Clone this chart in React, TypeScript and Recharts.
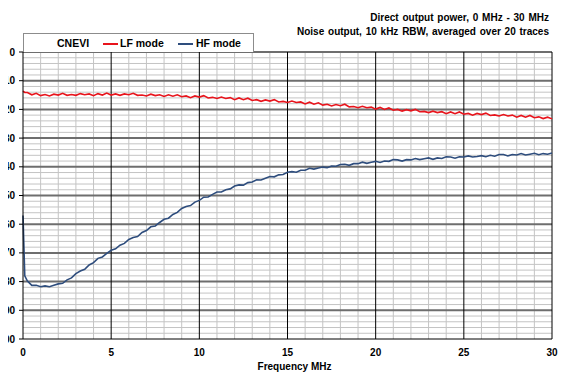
import React from 'react';
import { LineChart, Line, XAxis, YAxis, ReferenceLine } from 'recharts';

// frequency points, MHz
const freqs = [
  0, 0.1, 0.25, 0.5, 0.75, 1, 1.25, 1.5, 1.75, 2, 2.25, 2.5, 2.75, 3, 3.25, 3.5, 3.75, 4, 4.25, 4.5, 4.75, 5,
  5.25, 5.5, 5.75, 6, 6.25, 6.5, 6.75, 7, 7.25, 7.5, 7.75, 8, 8.25, 8.5, 8.75, 9, 9.25, 9.5, 9.75, 10,
  10.25, 10.5, 10.75, 11, 11.25, 11.5, 11.75, 12, 12.25, 12.5, 12.75, 13, 13.25, 13.5, 13.75, 14, 14.25, 14.5, 14.75, 15,
  15.25, 15.5, 15.75, 16, 16.25, 16.5, 16.75, 17, 17.25, 17.5, 17.75, 18, 18.25, 18.5, 18.75, 19, 19.25, 19.5, 19.75, 20,
  20.25, 20.5, 20.75, 21, 21.25, 21.5, 21.75, 22, 22.25, 22.5, 22.75, 23, 23.25, 23.5, 23.75, 24, 24.25, 24.5, 24.75, 25,
  25.25, 25.5, 25.75, 26, 26.25, 26.5, 26.75, 27, 27.25, 27.5, 27.75, 28, 28.25, 28.5, 28.75, 29, 29.25, 29.5, 29.75, 30,
];

// LF mode output, dB
const lfMode = [
  -13.6, -14.1, -14.1, -14.9, -14.4, -15.2, -14.8, -15.3, -14.7, -15.0, -14.4, -15.1, -14.8, -15.1, -14.5, -14.9, -14.6, -15.2, -14.5, -15.0, -14.3, -15.0,
  -14.6, -15.1, -14.6, -14.9, -14.4, -15.1, -15.0, -15.3, -14.7, -15.2, -14.9, -15.5, -14.9, -15.4, -14.9, -15.6, -15.3, -15.9, -15.3, -15.7,
  -15.2, -16.0, -15.8, -16.2, -15.7, -16.2, -15.9, -16.6, -16.0, -16.6, -16.1, -16.9, -16.6, -17.2, -16.7, -17.1, -16.6, -17.4, -17.2, -17.6,
  -17.1, -17.6, -17.4, -18.1, -17.5, -18.2, -17.7, -18.5, -18.2, -18.8, -18.3, -18.7, -18.2, -19.1, -19.0, -19.4, -18.9, -19.4, -19.2, -19.9,
  -19.3, -20.0, -19.5, -20.3, -20.0, -20.6, -20.1, -20.5, -20.0, -20.8, -20.7, -21.1, -20.6, -21.1, -20.8, -21.5, -20.9, -21.5, -20.9, -21.7,
  -21.4, -22.0, -21.4, -21.8, -21.3, -22.1, -21.9, -22.3, -21.8, -22.3, -22.0, -22.7, -22.1, -22.7, -22.1, -22.9, -22.6, -23.2, -22.7, -23.3,
];

// HF mode output, dB
const hfMode = [
  -57.0, -78.0, -79.8, -81.3, -81.3, -81.8, -81.5, -81.8, -81.3, -80.8, -80.6, -79.4, -78.7, -77.2, -76.3, -75.7, -74.2, -73.4, -71.9, -71.4, -70.2, -69.1,
  -68.6, -67.3, -66.7, -65.3, -64.6, -64.3, -62.9, -62.2, -60.9, -60.6, -59.4, -58.3, -57.9, -56.6, -55.9, -54.5, -53.8, -53.5, -52.3, -51.7,
  -50.6, -50.5, -49.6, -48.8, -48.8, -48.0, -47.7, -46.7, -46.3, -46.4, -45.5, -45.3, -44.5, -44.6, -44.0, -43.4, -43.5, -42.8, -42.7, -41.9,
  -41.7, -41.9, -41.2, -41.2, -40.5, -40.8, -40.4, -40.1, -40.3, -39.7, -39.8, -39.2, -39.1, -39.5, -38.9, -38.9, -38.4, -38.8, -38.4, -38.1,
  -38.5, -38.0, -38.1, -37.5, -37.6, -38.0, -37.5, -37.6, -37.1, -37.5, -37.2, -36.9, -37.4, -36.9, -37.1, -36.5, -36.6, -37.0, -36.5, -36.6,
  -36.2, -36.6, -36.4, -36.1, -36.5, -36.0, -36.3, -35.7, -35.7, -36.2, -35.7, -35.9, -35.4, -35.9, -35.6, -35.3, -35.8, -35.4, -35.6, -35.2,
];

const xTicks = [0, 5, 10, 15, 20, 25, 30];
const yTicks = [0, -10, -20, -30, -40, -50, -60, -70, -80, -90, -100];

const xMinor = [1, 2, 3, 4, 6, 7, 8, 9, 11, 12, 13, 14, 16, 17, 18, 19, 21, 22, 23, 24, 26, 27, 28, 29];
const xMajor = [5, 10, 15, 20, 25, 30];
const yMinor = yTicks.slice(0, 10).flatMap(v => [v - 2, v - 4, v - 6, v - 8]);
const yMajor = [0, -10, -20, -30, -40, -50, -60, -70, -80, -90];

const data = freqs.map((f, i) => ({ f, lf: lfMode[i], hf: hfMode[i] }));

const font = '"Liberation Sans", Arial, sans-serif';
const RED = '#e8141c';
const BLUE = '#2e4d7d';

const YTick = (props: any) => {
  const { y, payload } = props;
  return (
    <text x={15} y={y} dy="0.355em" textAnchor="end" fontFamily={font} fontSize={10} fontWeight="bold" fill="#000">
      {String(payload.value)}
    </text>
  );
};

const legendText: React.CSSProperties = { position: 'absolute', top: 3, lineHeight: '13px' };
const legendLine: React.CSSProperties = { position: 'absolute', top: 9, width: 15, height: 2 };

const App: React.FC = () => {
  return (
    <div style={{ position: 'relative', width: 570, height: 380, margin: '-8px 0 0 -8px', background: '#fff', fontFamily: font, overflow: 'hidden' }}>
      <div style={{ position: 'absolute', right: 21, top: 11, textAlign: 'right', fontSize: 10, fontWeight: 'bold', lineHeight: '14px', wordSpacing: 1, color: '#000' }}>
        <div>Direct output power, 0 MHz - 30 MHz</div>
        <div>Noise output, 10 kHz RBW, averaged over 20 traces</div>
      </div>
      <div
        style={{
          position: 'absolute', left: 23, top: 33, width: 229, height: 18, border: '1px solid #8c8c8c', borderBottom: 'none',
          background: '#fff', fontSize: 10.5, fontWeight: 'bold', zIndex: 2,
        }}
      >
        <span style={{ ...legendText, left: 33 }}>CNEVI</span>
        <span style={{ ...legendLine, left: 79, background: RED }} />
        <span style={{ ...legendText, left: 96 }}>LF mode</span>
        <span style={{ ...legendLine, left: 154, background: BLUE }} />
        <span style={{ ...legendText, left: 172 }}>HF mode</span>
      </div>
      <LineChart width={570} height={380} data={data} margin={{ top: 52, right: 18, bottom: 20, left: 0 }}>
        {xMinor.map(v => (
          <ReferenceLine key={`xm${v}`} x={v} stroke="#c4c4c4" strokeWidth={1} />
        ))}
        {yMinor.map(v => (
          <ReferenceLine key={`ym${v}`} y={v} stroke="#c4c4c4" strokeWidth={1} />
        ))}
        {yMajor.map(v => (
          <ReferenceLine key={`yM${v}`} y={v} stroke="#6e6e6e" strokeWidth={2} />
        ))}
        {xMajor.map(v => (
          <ReferenceLine key={`xM${v}`} x={v} stroke="#000" strokeWidth={1} />
        ))}
        <XAxis
          dataKey="f"
          type="number"
          domain={[0, 30]}
          ticks={xTicks}
          axisLine={{ stroke: '#000' }}
          tickLine={false}
          tickMargin={4}
          height={21}
          tick={{ fontFamily: font, fontSize: 10, fontWeight: 'bold', fill: '#000' }}
          label={{ value: 'Frequency  MHz', position: 'insideBottom', offset: -10, dx: 7, fontFamily: font, fontSize: 10, fontWeight: 'bold', fill: '#000' }}
        />
        <YAxis
          type="number"
          domain={[-100, 0]}
          ticks={yTicks}
          width={23}
          axisLine={{ stroke: '#000' }}
          tickLine={{ stroke: '#000' }}
          tickSize={4}
          tickMargin={4}
          tick={<YTick />}
        />
        <Line type="linear" dataKey="lf" stroke={RED} strokeWidth={1.6} dot={false} isAnimationActive={false} />
        <Line type="linear" dataKey="hf" stroke={BLUE} strokeWidth={1.6} dot={false} isAnimationActive={false} />
      </LineChart>
    </div>
  );
};

export default App;
